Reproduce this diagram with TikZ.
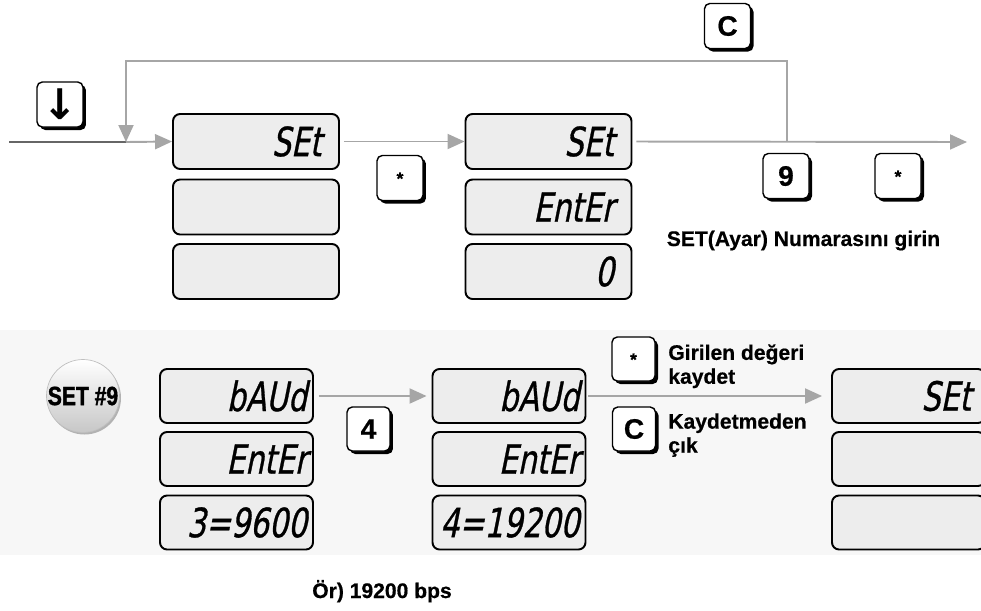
\documentclass[tikz,border=0pt]{standalone}
\usepackage{fontspec}
\setmainfont{Liberation Sans}[BoldFeatures={FakeBold=0.6}]
\newfontfamily\lcdfont[FakeSlant=0.2,FakeStretch=0.74,FakeBold=0.7]{DejaVu Sans}
\newfontfamily\arrowfont{DejaVu Sans}
\newfontfamily\narrowfont[FakeStretch=0.8,BoldFeatures={FakeBold=1.4}]{Liberation Sans}
\usepackage{tikz}
\usetikzlibrary{arrows.meta,positioning,shadows}

\begin{document}
\begin{tikzpicture}[
  x=0.02cm, y=-0.02cm,
  lcd/.style={draw, line width=1.1pt, rounded corners=4pt, fill=black!7,
    minimum height=1.1cm, text width=2.62cm, inner xsep=0.35cm, inner ysep=0.1cm,
    align=right, font=\lcdfont\fontsize{23}{23}\selectfont},
  lcdlow/.style={lcd, minimum height=1.08cm, text width=2.82cm, inner xsep=0.12cm},
  lcdend/.style={lcdlow, text width=2.5cm, inner xsep=0.28cm},
  keycap/.style={draw, line width=0.8pt, rounded corners=3pt, fill=white,
    minimum width=0.92cm, minimum height=0.9cm, inner sep=0pt,
    font=\bfseries\fontsize{16}{16}\selectfont,
    general shadow={fill=black, shadow xshift=0.06cm, shadow yshift=-0.06cm}},
  keylow/.style={keycap, minimum width=0.86cm, minimum height=0.88cm},
  star/.style={font=\bfseries\fontsize{10}{10}\selectfont, text height=0.75em, text depth=-0.4em},
  seal/.style={circle, minimum size=1.46cm, inner sep=0pt, draw=black!25,
    top color=white, bottom color=black!22,
    general shadow={fill=black!30, shadow xshift=0.03cm, shadow yshift=-0.04cm},
    font=\narrowfont\bfseries\fontsize{15}{15}\selectfont},
  note/.style={inner sep=0pt, align=left, font=\bfseries\fontsize{12}{13.6}\selectfont},
  flow/.style={draw=black!35, line width=1.1pt, -{Triangle[length=0.34cm,width=0.3cm]}},
  lead/.style={draw=black!60, line width=1.1pt}
]
\clip (0,0) rectangle (981,610);
\fill[black!3] (0,330) rectangle (981,555);

\node[lcd] (set1) at (256,141.5) {SEt};
\node[lcd] (set2) at (256,207) {};
\node[lcd] (set3) at (256,271.5) {};
\node[lcd] (ent1) at (548.5,141.5) {SEt};
\node[lcd] (ent2) at (548.5,207) {EntEr};
\node[lcd] (ent3) at (548.5,271.5) {0};

\node[lcdlow] (baud1) at (236.5,396) {bAUd};
\node[lcdlow] (baud2) at (236.5,459) {EntEr};
\node[lcdlow] (baud3) at (236.5,522.5) {3=9600};
\node[lcdlow] (new1) at (509,396) {bAUd};
\node[lcdlow] (new2) at (509,459) {EntEr};
\node[lcdlow] (new3) at (509,522.5) {4=19200};
\node[lcdend] (back1) at (908.5,396) {SEt};
\node[lcdend] (back2) at (908.5,459) {};
\node[lcdend] (back3) at (908.5,522.5) {};

\node[keycap] (kdown) at (60,104.5) {\arrowfont\bfseries\fontsize{24}{24}\selectfont ↓};
\node[keycap, star] (kstar1) at (400,178) {*};
\node[keycap] (kclr1) at (727.5,26) {C};
\node[keycap] (knine) at (786,176) {9};
\node[keycap, star] (kstar2) at (898,176) {*};
\node[keylow] (kfour) at (368.5,429) {4};
\node[keylow, star] (kstar3) at (633.5,359) {*};
\node[keylow] (kclr2) at (634,429) {C};

\node[seal] (setnine) at (83,396) {SET \#9};

\node[note, anchor=base] (hint) at (803.5,246) {SET(Ayar) Numarasını girin};
\node[note, anchor=north west] (save) at (668,344) {Girilen değeri\\kaydet};
\node[note, anchor=north west] (quit) at (668,413) {Kaydetmeden\\çık};
\node[note, anchor=base] (example) at (382,598) {Ör) 19200 bps};

\coordinate (start) at (9,142);
\coordinate (join) at (126,142);
\coordinate (split) at (787,142);
\coordinate (loop) at (126,61);
\coordinate (out) at (967,142);

\draw[lead] (start) -- (join);
\draw[flow] (join) -- (set1.west);
\draw[flow, shorten <=0.08cm] (set1.east) -- (ent1.west);
\draw[flow, shorten <=0.08cm] (ent1.east) -- (out);
\draw[flow] (split) |- (loop) -- (join);
\draw[flow, shorten <=0.1cm, shorten >=0.1cm] (baud1.east) -- (new1.west);
\draw[flow, shorten <=0.04cm, shorten >=0.18cm] (new1.east) -- (back1.west);
\end{tikzpicture}
\end{document}
